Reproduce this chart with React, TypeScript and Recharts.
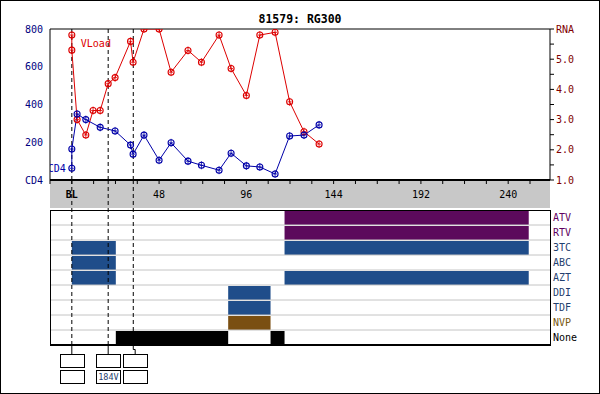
import React from 'react';
import {
  ComposedChart,
  Line,
  XAxis,
  YAxis,
  ReferenceLine,
  BarChart,
  Bar,
  Cell,
} from 'recharts';

// ---------- data ----------
const cd4Weeks = [0, 0, 2.9, 7.7, 15.6, 23.8, 32.3, 33.7, 39.7, 48, 54.6, 63.9, 71.3, 81, 87.6, 96, 103.4, 111.8, 119.8, 127.7, 136];
const cd4Values = [62, 164, 350, 320, 279, 260, 185, 137, 238, 105, 197, 100, 78, 52, 142, 75, 69, 32, 233, 238, 292];

const rnaWeeks = [0, 0, 2.9, 7.7, 11.7, 15.6, 20, 23.8, 32.3, 33.7, 39.7, 48, 54.6, 63.9, 71.3, 81, 87.6, 96, 103.4, 111.8, 119.8, 127.7, 136];
const rnaValues = [5.8, 5.3, 3.0, 2.49, 3.3, 3.3, 4.19, 4.39, 5.59, 4.9, 6.0, 6.0, 4.57, 5.29, 4.9, 5.8, 4.69, 3.8, 5.8, 5.89, 3.59, 2.6, 2.19];

const xTicks = [-12, 0, 12, 24, 36, 48, 60, 72, 84, 96, 108, 120, 132, 144, 156, 168, 180, 192, 204, 216, 228, 240, 252];
const xLabelWeeks = [0, 48, 96, 144, 192, 240];
const cd4Ticks = [0, 200, 400, 600, 800];
const rnaTicks = [1, 1.5, 2, 2.5, 3, 3.5, 4, 4.5, 5, 5.5, 6];

const drugs = ['ATV', 'RTV', '3TC', 'ABC', 'AZT', 'DDI', 'TDF', 'NVP', 'None'];
const drugBarColors = ['#5c0a5c', '#5c0a5c', '#1f4d8a', '#1f4d8a', '#1f4d8a', '#1f4d8a', '#1f4d8a', '#7a4f12', '#000000'];
const drugLabelColors = ['#600060', '#600060', '#1f3f6f', '#1f3f6f', '#1f3f6f', '#1f3f6f', '#1f3f6f', '#7a5a10', '#000000'];
const firstSpan: (number[] | null)[] = [
  [117, 251.3], [117, 251.3], [0, 24.2], [0, 24.2], [0, 24.2], [86, 109.3], [86, 109.3], [86, 109.3], [24.2, 86],
];
const secondSpan: (number[] | null)[] = [
  null, null, [117, 251.3], null, [117, 251.3], null, null, null, [109.3, 117],
];

const eventWeeks = [0, 20, 33.8];
const mutUpper = ['', '', ''];
const mutLower = ['', '184V', ''];

const title = '81579: RG300';

// ---------- layout constants ----------
const X_MIN = -12;
const X_MAX = 263;
const CHART_W = 600;
const AXIS_W = 50;
const PLOT_W = CHART_W - 2 * AXIS_W;
const PX_PER_WEEK = PLOT_W / (X_MAX - X_MIN);
const BOX_W = 24;
const BOX_H = 13;
const BOX_GAP = 3;

const MONO = '"DejaVu Sans Mono", monospace';

const cd4Data = cd4Weeks.map((w, i) => ({ week: w, v: cd4Values[i] }));
const rnaData = rnaWeeks.map((w, i) => ({ week: w, v: rnaValues[i] }));
const rows = drugs.map((d, i) => ({ name: d, first: firstSpan[i], second: secondSpan[i] }));

// ---------- custom pieces ----------
function Marker(props: any) {
  const { cx, cy, color, index, text, textSide } = props;
  if (cx == null || cy == null || Number.isNaN(cx) || Number.isNaN(cy)) return null;
  return (
    <g>
      <line x1={cx} y1={cy - 4} x2={cx} y2={cy + 4} stroke={color} strokeWidth={0.8} />
      <line x1={cx - 2} y1={cy} x2={cx + 2} y2={cy} stroke={color} strokeWidth={0.8} />
      <circle cx={cx} cy={cy} r={3} fill="none" stroke={color} strokeWidth={1.1} />
      {index === 0 && text ? (
        textSide === 'right' ? (
          <text x={cx + 9} y={cy + 12} fill={color} fontFamily={MONO} fontSize={10}>{text}</text>
        ) : (
          <text x={cx - 6} y={cy + 4} fill={color} fontFamily={MONO} fontSize={10} textAnchor="end">{text}</text>
        )
      ) : null}
    </g>
  );
}

function XTick(props: any) {
  const { x, y, payload } = props;
  const v = payload.value;
  const showLabel = xLabelWeeks.includes(v);
  const lbl = v === 0 ? 'BL' : String(v);
  return (
    <g>
      <line x1={x} y1={y} x2={x} y2={y + 4} stroke="#000" />
      {showLabel ? (
        <text x={x} y={y + 18} textAnchor="middle" fontFamily={MONO} fontSize={10} fontWeight={v === 0 ? 'bold' : 'normal'} fill="#000">
          {lbl}
        </text>
      ) : null}
    </g>
  );
}

function CD4Tick(props: any) {
  const { x, y, payload } = props;
  const v = payload.value;
  return (
    <text x={x - 7} y={y + 3.5} textAnchor="end" fontFamily={MONO} fontSize={10} fill="#000080">
      {v === 0 ? 'CD4' : String(v)}
    </text>
  );
}

function RNATick(props: any) {
  const { x, y, payload } = props;
  const v = payload.value;
  const isMajor = Number.isInteger(v);
  return (
    <g>
      <line x1={x} y1={y} x2={x + 4} y2={y} stroke="#000" />
      {isMajor ? (
        <text x={x + 6} y={y + 3.5} fontFamily={MONO} fontSize={10} fill="#800000">
          {v === 6 ? 'RNA' : v.toFixed(1)}
        </text>
      ) : null}
    </g>
  );
}

function DrugTick(props: any) {
  const { x, y, payload, index } = props;
  const i = typeof index === 'number' ? index : drugs.indexOf(payload.value);
  return (
    <text x={x + 3} y={y + 3.5} fontFamily={MONO} fontSize={10} fill={drugLabelColors[i] || '#000'}>
      {payload.value}
    </text>
  );
}

function EventBoxes(props: any) {
  const { viewBox, idx } = props;
  if (!viewBox) return null;
  const lx = viewBox.x;
  const top = viewBox.y;
  const bottom = viewBox.y + viewBox.height;
  // box centres: start at each line's x, pushed right to avoid overlapping boxes
  const lineXs = eventWeeks.map((w) => lx + (w - eventWeeks[idx]) * PX_PER_WEEK);
  const centres: number[] = [];
  lineXs.forEach((px, j) => {
    const c = j === 0 ? px : Math.max(px, centres[j - 1] + BOX_W + BOX_GAP);
    centres.push(c);
  });
  const c = centres[idx];
  const boxTop = bottom + 9;
  const bx = Math.round(c - BOX_W / 2) + 0.5;
  const shifted = Math.abs(c - lx) > 0.5;
  return (
    <g>
      <line x1={lx} y1={top - 30} x2={lx} y2={top} stroke="#000" strokeDasharray="4 3" />
      {shifted ? (
        <polyline
          points={`${lx},${bottom} ${lx},${bottom + 4.5} ${c},${bottom + 4.5} ${c},${boxTop}`}
          fill="none"
          stroke="#000"
        />
      ) : (
        <line x1={lx} y1={bottom} x2={lx} y2={boxTop} stroke="#000" />
      )}
      <rect x={bx} y={boxTop + 0.5} width={BOX_W} height={BOX_H} fill="#fff" stroke="#000" />
      <rect x={bx} y={boxTop + BOX_H + 3.5} width={BOX_W} height={BOX_H} fill="#fff" stroke="#000" />
      {mutUpper[idx] ? (
        <text x={bx + BOX_W / 2} y={boxTop + 10} textAnchor="middle" fontFamily={MONO} fontSize={8.5} fill="#1f3f6f">{mutUpper[idx]}</text>
      ) : null}
      {mutLower[idx] ? (
        <text x={bx + BOX_W / 2} y={boxTop + BOX_H + 13} textAnchor="middle" fontFamily={MONO} fontSize={8.5} fill="#1f3f6f">{mutLower[idx]}</text>
      ) : null}
    </g>
  );
}

export default function App() {
  return (
    <div style={{ position: 'absolute', left: 0, top: 0, width: 600, height: 394, background: '#fff', overflow: 'hidden' }}>
      {/* gray axis band */}
      <div style={{ position: 'absolute', left: AXIS_W, top: 180, width: PLOT_W, height: 28, background: '#c8c8c8' }} />
      {/* title */}
      <div
        style={{
          position: 'absolute', left: 0, top: 12, width: 600, textAlign: 'center',
          fontFamily: MONO, fontWeight: 'bold', fontSize: 11.5, lineHeight: '14px', color: '#000',
        }}
      >
        {title}
      </div>
      {/* top chart */}
      <div style={{ position: 'absolute', left: 0, top: 0 }}>
        <ComposedChart width={600} height={208} margin={{ top: 29, right: 0, bottom: 0, left: 0 }}>
          <XAxis
            type="number"
            dataKey="week"
            domain={[X_MIN, X_MAX]}
            ticks={xTicks}
            interval={0}
            allowDataOverflow
            height={28}
            tickSize={0}
            tickMargin={0}
            tickLine={false}
            tick={(p: any) => <XTick {...p} />}
            axisLine={{ stroke: '#000', strokeWidth: 2 }}
          />
          <YAxis
            yAxisId="cd4"
            type="number"
            domain={[0, 800]}
            ticks={cd4Ticks}
            interval={0}
            allowDataOverflow
            width={AXIS_W}
            tickSize={0}
            tickMargin={0}
            tickLine={false}
            tick={(p: any) => <CD4Tick {...p} />}
            axisLine={{ stroke: '#000' }}
          />
          <YAxis
            yAxisId="rna"
            orientation="right"
            type="number"
            domain={[1, 6]}
            ticks={rnaTicks}
            interval={0}
            allowDataOverflow
            width={AXIS_W}
            tickSize={0}
            tickMargin={0}
            tickLine={false}
            tick={(p: any) => <RNATick {...p} />}
            axisLine={{ stroke: '#000' }}
          />
          <ReferenceLine yAxisId="cd4" y={800} stroke="#000" />
          {eventWeeks.map((w) => (
            <ReferenceLine key={'ev' + w} yAxisId="cd4" x={w} stroke="#000" strokeDasharray="4 3" />
          ))}
          <Line
            yAxisId="rna"
            data={rnaData}
            dataKey="v"
            type="linear"
            stroke="#dd0000"
            strokeWidth={1}
            isAnimationActive={false}
            dot={(p: any) => <Marker key={'r' + p.index} {...p} color="#dd0000" text="VLoad" textSide="right" />}
            activeDot={false}
          />
          <Line
            yAxisId="cd4"
            data={cd4Data}
            dataKey="v"
            type="linear"
            stroke="#0000a8"
            strokeWidth={1}
            isAnimationActive={false}
            dot={(p: any) => <Marker key={'c' + p.index} {...p} color="#0000a8" text="CD4" textSide="left" />}
            activeDot={false}
          />
        </ComposedChart>
      </div>
      {/* treatment panel */}
      <div style={{ position: 'absolute', left: 0, top: 180 }}>
        <BarChart
          layout="vertical"
          width={600}
          height={214}
          data={rows}
          margin={{ top: 30, right: 0, bottom: 49, left: AXIS_W }}
          barCategoryGap={0}
        >
          <XAxis type="number" domain={[X_MIN, X_MAX]} hide allowDataOverflow />
          <YAxis
            yAxisId="a"
            type="category"
            dataKey="name"
            orientation="right"
            width={AXIS_W}
            tickSize={0}
            tickMargin={0}
            axisLine={false}
            tickLine={false}
            interval={0}
            tick={(p: any) => <DrugTick {...p} />}
          />
          <YAxis yAxisId="b" type="category" dataKey="name" hide />
          {drugs.slice(1).map((d) => (
            <ReferenceLine key={'g' + d} yAxisId="a" y={d} position="start" stroke="#c4c4c4" />
          ))}
          <Bar yAxisId="a" dataKey="first" barSize={14} isAnimationActive={false}>
            {drugs.map((d, i) => (
              <Cell key={'a' + d} fill={drugBarColors[i]} />
            ))}
          </Bar>
          <Bar yAxisId="b" dataKey="second" barSize={14} isAnimationActive={false}>
            {drugs.map((d, i) => (
              <Cell key={'b' + d} fill={drugBarColors[i]} />
            ))}
          </Bar>
          {eventWeeks.map((w, i) => (
            <ReferenceLine
              key={'bev' + w}
              yAxisId="a"
              x={w}
              stroke="#000"
              strokeDasharray="4 3"
              label={(p: any) => <EventBoxes {...p} idx={i} />}
            />
          ))}
        </BarChart>
      </div>
      {/* panel frame */}
      <div
        style={{
          position: 'absolute', left: AXIS_W, top: 210, width: PLOT_W + 1, height: 136, boxSizing: 'border-box',
          borderTop: '1px solid #000', borderLeft: '1px solid #000', borderRight: '1px solid #000', borderBottom: '2px solid #000',
          pointerEvents: 'none',
        }}
      />
      {/* outer frame */}
      <div
        style={{
          position: 'absolute', left: 0, top: 0, width: 600, height: 394, boxSizing: 'border-box',
          border: '1px solid #000', pointerEvents: 'none',
        }}
      />
    </div>
  );
}
